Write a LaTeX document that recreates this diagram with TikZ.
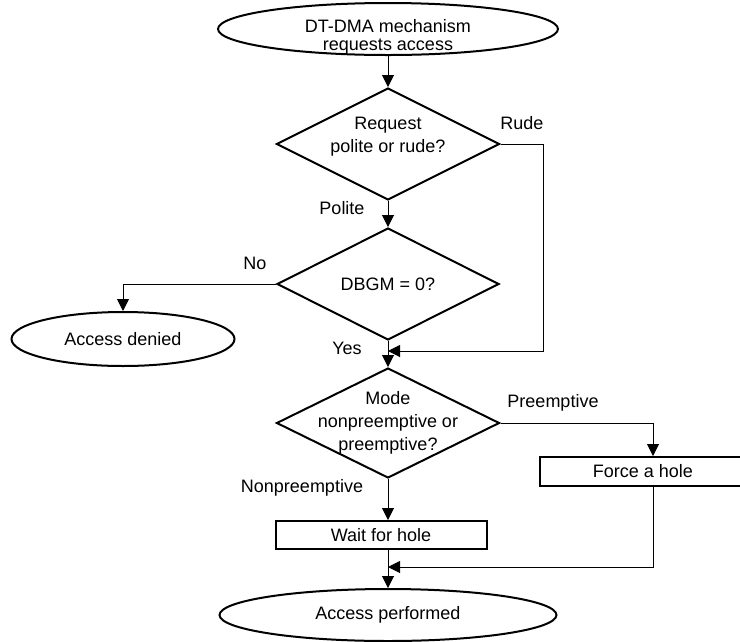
\documentclass[tikz,border=0pt]{standalone}
\usepackage{fontspec}
\setmainfont{Liberation Sans}
\usetikzlibrary{arrows.meta,positioning,shapes.geometric,calc}

\begin{document}
\begin{tikzpicture}[x=1pt,y=-1pt,font=\fontsize{18}{23}\selectfont,
  terminal/.style={ellipse,draw,line width=2pt,inner sep=0pt},
  decision/.style={diamond,draw,line width=2pt,inner sep=0pt},
  stepbox/.style={rectangle,draw,line width=2pt,inner sep=0pt},
  flow/.style={line width=1pt,-{Triangle[length=12pt,width=12pt]}},
  plain/.style={line width=1pt}]
\useasboundingbox (0,0) rectangle (740,641);
\clip (0,0) rectangle (740,641);
% shapes
\node[terminal,minimum width=340pt,minimum height=52pt,
  label={[align=center,yshift=-8pt,font=\fontsize{18}{18}\selectfont]center:DT-DMA mechanism\\requests access}] (start) at (388,29) {};
\node[decision,minimum width=223pt,minimum height=112pt,
  label={[align=center,yshift=7pt]center:Request\\polite or rude?}] (rq) at (388,144) {};
\node[decision,minimum width=222pt,minimum height=112pt,
  label={center:DBGM = 0?}] (dbgm) at (388,284) {};
\node[decision,minimum width=223pt,minimum height=110pt,
  label={[align=center]center:Mode\\nonpreemptive or\\preemptive?}] (mode) at (388,423) {};
\node[terminal,minimum width=223pt,minimum height=54pt] (denied) at (123,339) {Access denied};
\node[stepbox,minimum width=206pt,minimum height=29pt] (force) at (643,471.5) {Force a hole};
\node[stepbox,minimum width=211pt,minimum height=28pt] (wait) at (381,535) {Wait for hole};
\node[terminal,minimum width=337pt,minimum height=52pt] (done) at (388,615) {Access performed};
% labels
\node (lrude) at (522,123) {Rude};
\node (lpolite) at (342,208) {Polite};
\node (lno) at (255,263) {No};
\node (lyes) at (347,348) {Yes};
\node (lpre) at (553,403) {Preemptive};
\node (lnonpre) at (302,488) {Nonpreemptive};
% connectors
\coordinate (rudecorner) at (543,351);
\coordinate (forcecorner) at (653,567);
\draw[flow] (start.south) -- (rq.north);
\draw[flow] (rq.south) -- (dbgm.north);
\draw[flow] (rq.east) -| (rudecorner) -- (dbgm.south |- rudecorner);
\draw[flow] (dbgm.west) -| (denied.north);
\draw[flow] (dbgm.south) -- (mode.north);
\draw[flow] (mode.east) -| (forcecorner |- force.north);
\draw[flow] (mode.south) -- (mode.south |- wait.north);
\draw[flow] (mode.south |- wait.south) -- (done.north);
\draw[flow] (forcecorner |- force.south) -- (forcecorner) -- (mode.south |- forcecorner);
\end{tikzpicture}
\end{document}
